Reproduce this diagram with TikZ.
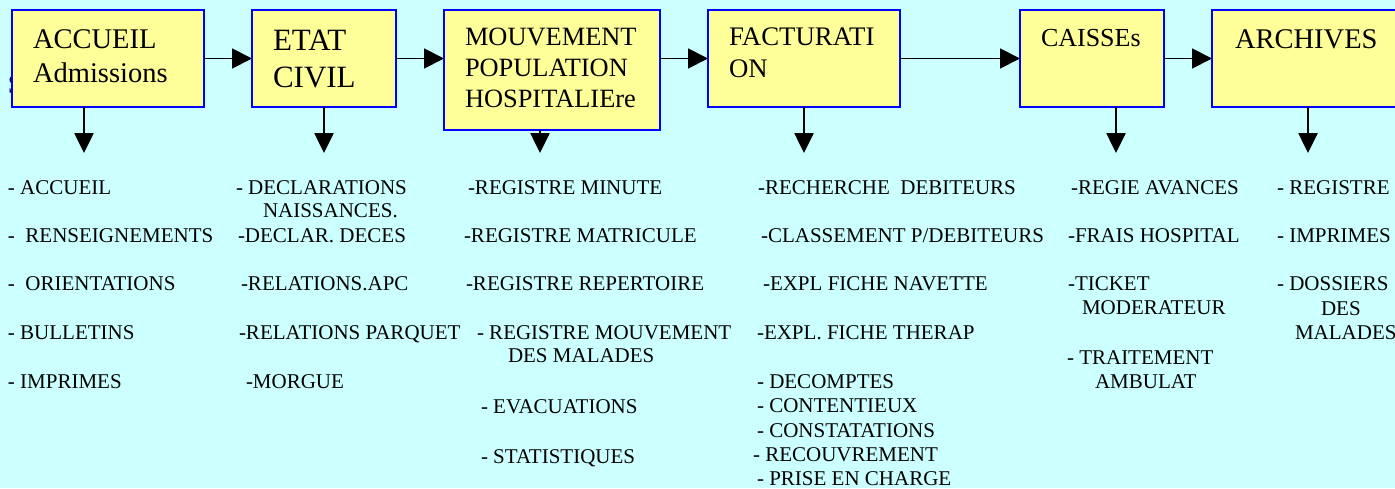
\documentclass[tikz,border=0pt]{standalone}
\usepackage{fontspec}
\setmainfont{Liberation Serif}
\usetikzlibrary{arrows.meta}
\definecolor{bgcyan}{RGB}{204,255,255}
\definecolor{boxyellow}{RGB}{255,255,153}
\definecolor{boxblue}{RGB}{0,0,255}
\tikzset{
  box/.style={draw=boxblue, line width=1.6pt, fill=boxyellow, rectangle, anchor=north west, inner sep=0pt, outer sep=0pt},
  lbl/.style={anchor=base west, inner sep=0pt, outer sep=0pt},
  item/.style={anchor=base west, inner sep=0pt, outer sep=0pt, font=\fontsize{21}{23}\selectfont},
  hconn/.style={line width=1.8pt, -{Triangle[length=20pt,width=20pt]}},
  vconn/.style={line width=2.6pt, -{Triangle[length=20pt,width=19pt]}}
}
\begin{document}
\begin{tikzpicture}[x=1pt,y=-1pt]
\useasboundingbox (0,0) rectangle (1395,488);
\clip (0,0) rectangle (1395,488);
\fill[bgcyan] (0,0) rectangle (1395,488);
% partly hidden glyph behind first box
\node[lbl, font=\fontsize{27}{30}\selectfont] (frag) at (8,93) {S};
% boxes
\node[box, minimum width=192pt, minimum height=97pt] (b1) at (12,10) {};
\node[box, minimum width=144pt, minimum height=97pt] (b2) at (252,10) {};
\node[box, minimum width=216pt, minimum height=120pt] (b3) at (444,10) {};
\node[box, minimum width=192pt, minimum height=97pt] (b4) at (708,10) {};
\node[box, minimum width=144pt, minimum height=97pt] (b5) at (1020,10) {};
\node[box, minimum width=200pt, minimum height=97pt] (b6) at (1212,10) {};
% box labels
\node[lbl, font=\fontsize{28.5}{32}\selectfont] (t1a) at (33,48) {ACCUEIL};
\node[lbl, font=\fontsize{28.5}{32}\selectfont] (t1b) at (33,82) {Admissions};
\node[lbl, font=\fontsize{31}{35}\selectfont] (t2a) at (273,50) {ETAT};
\node[lbl, font=\fontsize{31}{35}\selectfont] (t2b) at (273,87) {CIVIL};
\node[lbl, font=\fontsize{26.4}{30}\selectfont] (t3a) at (465,45) {MOUVEMENT};
\node[lbl, font=\fontsize{26.4}{30}\selectfont] (t3b) at (465,76) {POPULATION};
\node[lbl, font=\fontsize{26.4}{30}\selectfont] (t3c) at (465,107) {HOSPITALIEre};
\node[lbl, font=\fontsize{26.8}{30}\selectfont] (t4a) at (729,45) {FACTURATI};
\node[lbl, font=\fontsize{26.8}{30}\selectfont] (t4b) at (729,77) {ON};
\node[lbl, font=\fontsize{26}{30}\selectfont] (t5a) at (1041,46) {CAISSEs};
\node[lbl, font=\fontsize{28.5}{32}\selectfont] (t6a) at (1235,48) {ARCHIVES};
% horizontal connectors
\draw[hconn] (b1.east) -- (b2.west);
\draw[hconn] (b2.east) -- (b2.east -| b3.west);
\draw[hconn] (b3.east |- b4.west) -- (b4.west);
\draw[hconn] (b4.east) -- (b5.west);
\draw[hconn] (b5.east) -- (b5.east -| b6.west);
% down arrows
\coordinate (d1) at (84,153);
\coordinate (d2) at (324,153);
\coordinate (d3) at (540,153);
\coordinate (d4) at (804,153);
\coordinate (d5) at (1116,153);
\coordinate (d6) at (1308,153);
\draw[vconn] (d1 |- b1.south) -- (d1);
\draw[vconn] (d2 |- b2.south) -- (d2);
\draw[vconn] (d3 |- b3.south) -- (d3);
\draw[vconn] (d4 |- b4.south) -- (d4);
\draw[vconn] (d5 |- b5.south) -- (d5);
\draw[vconn] (d6 |- b6.south) -- (d6);
% column 1
\node[item] (c1a) at (8,194) {- ACCUEIL};
\node[item] (c1b) at (8,242) {-\ \ RENSEIGNEMENTS};
\node[item] (c1c) at (8,290) {-\ \ ORIENTATIONS};
\node[item] (c1d) at (8,339) {- BULLETINS};
\node[item] (c1e) at (8,388) {- IMPRIMES};
% column 2
\node[item] (c2a) at (236,194) {- DECLARATIONS};
\node[item] (c2a2) at (263,217) {NAISSANCES.};
\node[item] (c2b) at (238,242) {-DECLAR. DECES};
\node[item] (c2c) at (241,290) {-RELATIONS.APC};
\node[item] (c2d) at (239,339) {-RELATIONS PARQUET};
\node[item] (c2e) at (246,388) {-MORGUE};
% column 3
\node[item] (c3a) at (468,194) {-REGISTRE MINUTE};
\node[item] (c3b) at (464,242) {-REGISTRE MATRICULE};
\node[item] (c3c) at (466,290) {-REGISTRE REPERTOIRE};
\node[item] (c3d) at (477,339) {- REGISTRE MOUVEMENT};
\node[item] (c3d2) at (508,362) {DES MALADES};
\node[item] (c3e) at (481,413) {- EVACUATIONS};
\node[item] (c3f) at (481,463) {- STATISTIQUES};
% column 4
\node[item] (c4a) at (758,194) {-RECHERCHE\ \ DEBITEURS};
\node[item] (c4b) at (761,242) {-CLASSEMENT P/DEBITEURS};
\node[item] (c4c) at (763,290) {-EXPL FICHE NAVETTE};
\node[item] (c4d) at (757,339) {-EXPL. FICHE THERAP};
\node[item] (c4e) at (757,388) {- DECOMPTES};
\node[item] (c4f) at (757,412) {- CONTENTIEUX};
\node[item] (c4g) at (757,437) {- CONSTATATIONS};
\node[item] (c4h) at (753,461) {- RECOUVREMENT};
\node[item] (c4i) at (757,485) {- PRISE EN CHARGE};
% column 5
\node[item] (c5a) at (1071,194) {-REGIE AVANCES};
\node[item] (c5b) at (1068,242) {-FRAIS HOSPITAL};
\node[item] (c5c) at (1068,290) {-TICKET};
\node[item] (c5c2) at (1082,314) {MODERATEUR};
\node[item] (c5d) at (1067,364) {- TRAITEMENT};
\node[item] (c5d2) at (1095,388) {AMBULAT};
% column 6
\node[item] (c6a) at (1277,194) {- REGISTRE};
\node[item] (c6b) at (1277,242) {- IMPRIMES};
\node[item] (c6c) at (1277,290) {- DOSSIERS};
\node[item] (c6c2) at (1321,315) {DES};
\node[item] (c6c3) at (1295,339) {MALADES};
\end{tikzpicture}
\end{document}
